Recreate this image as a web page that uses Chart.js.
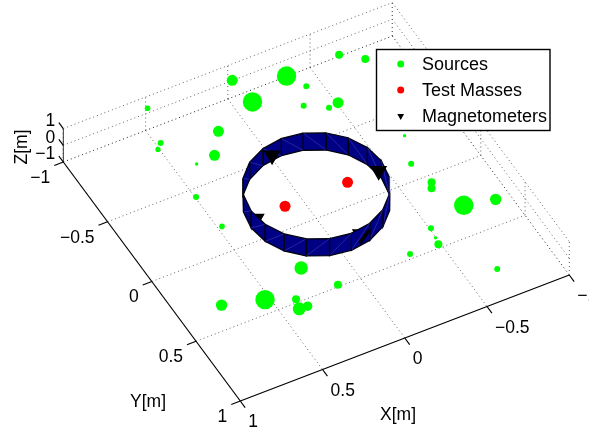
<!DOCTYPE html>
<html>
<head>
<meta charset="utf-8">
<title>Sources, test masses and magnetometers</title>
<script src="https://cdn.jsdelivr.net/npm/chart.js@4/dist/chart.umd.min.js"></script>
<style>
    html, body { margin: 0; padding: 0; background: #fff; }
    canvas { display: block; }
</style>
</head>
<body>
<canvas id="chart" width="589" height="432"></canvas>
<script>
// Values in metres (sources taken at Z = 0)
const srcX = [0.471, -0.028, -0.300, -0.048, 0.216, 0.531, 0.566, 0.319, 0.434, 0.553,
    -0.624, -0.733, -0.358, -0.277, -0.390, -0.451, -0.650, -0.583, -0.614, -0.593,
    -0.686, -0.858, 0.533, 0.811, 0.586, 0.438, 0.456, 0.304, 0.407, 0.188,
    -0.261, -0.429, -0.439, -0.450, -0.621];
const srcY = [-1.031, -1.002, -0.894, -0.810, -0.704, -0.772, -0.737, -0.557, -0.545, -0.331,
    -0.902, -0.809, -0.778, -0.658, -0.581, -0.592, -0.211, -0.012, 0.161, 0.200,
    0.391, 0.432, -0.075, 0.437, 0.510, 0.585, 0.655, 0.394, 0.659, 0.594,
    0.574, 0.582, 0.532, 0.459, 0.890];
// relative strength of each source, shown as the marker size
const srcStrength = [0.28, 0.55, 0.97, 0.97, 0.55, 0.30, 0.26, 0.55, 0.17, 0.30,
    0.40, 0.40, 0.30, 0.30, 0.30, 0.55, 0.17, 0.30, 0.40, 0.40,
    0.97, 0.57, 0.28, 0.57, 0.97, 0.40, 0.65, 0.67, 0.47, 0.40,
    0.30, 0.40, 0.17, 0.30, 0.30];

const massX = [0.19, -0.19];
const massY = [0, 0];
const massZ = [0.45, 0.45];

const magBackX = [0.37, -0.069];
const magBackY = [0.009, 0.369];
const magFrontX = [0.073, -0.377];
const magFrontY = [-0.364, 0.004];
const magZ = 0.45;
// the bit of the fourth magnetometer that pokes through the ring
const magTipX = [-0.035, -0.126];
const magTipY = [0.426, 0.365];

const ringAngles = [0, 18, 36, 54, 72, 90, 108, 126, 144, 162, 180, 198, 216, 234, 252, 270, 288, 306, 324, 342];
const ringRadius = 0.396;
const ringTop = 0.95;
const ringBottom = -0.07;

const xTicks = [1, 0.5, 0, -0.5, -1];
const yTicks = [-1, -0.5, 0, 0.5, 1];
const zTicks = [-1, 0, 1];
const xTickLabels = ['1', '0.5', '0', '\u22120.5', '\u22121'];
const yTickLabels = ['\u22121', '\u22120.5', '0', '0.5', '1'];
const zTickLabels = ['\u22121', '0', '1'];
const legendLabels = ['Sources', 'Test Masses', 'Magnetometers'];

// Orthographic view of the 3D box onto the chart plane
function project(x, y, z) {
    return {
        x: 316.3 - 164.5 * x + 88.5 * y,
        y: 201.8 + 63 * x + 119.5 * y - 16.7 * z
    };
}

const datasets = [];

function addLine(points, style) {
    datasets.push(Object.assign({
        data: points,
        showLine: true,
        pointRadius: 0,
        borderColor: '#000',
        borderWidth: 1,
        fill: false
    }, style));
}

const dotted = { borderColor: '#666', borderWidth: 1, borderDash: [1, 3] };
const dottedEdge = { borderColor: '#222', borderWidth: 1, borderDash: [1, 3] };
const solid = { borderColor: '#000', borderWidth: 1.2 };

// Grid on the floor and the two back walls
xTicks.forEach(x => {
    if (x !== 1) addLine([project(x, -1, -1), project(x, 1, -1)], x === -1 ? dottedEdge : dotted);
    addLine([project(x, -1, -1), project(x, -1, 1)], dotted);
});
yTicks.forEach(y => {
    if (y !== 1) addLine([project(1, y, -1), project(-1, y, -1)], y === -1 ? dottedEdge : dotted);
    addLine([project(-1, y, -1), project(-1, y, 1)], dotted);
});
zTicks.forEach(z => {
    if (z !== -1) {
        addLine([project(1, -1, z), project(-1, -1, z)], dotted);
        addLine([project(-1, -1, z), project(-1, 1, z)], dotted);
    }
});

// Axes and tick marks
addLine([project(1, -1, -1), project(1, 1, -1)], solid);
addLine([project(1, 1, -1), project(-1, 1, -1)], solid);
addLine([project(1, -1, -1), project(1, -1, 1)], { borderColor: '#333', borderWidth: 1 });
xTicks.forEach(x => addLine([project(x, 1, -1), project(x, 1.055, -1)], solid));
yTicks.forEach(y => addLine([project(1, y, -1), project(1.055, y, -1)], solid));
zTicks.forEach(z => addLine([project(1, -1, z), project(1, -1.05, z)], solid));

datasets.push({
    label: 'Sources',
    data: srcX.map((x, i) => project(x, srcY[i], 0)),
    pointRadius: srcStrength.map(s => s * 10),
    pointBackgroundColor: '#00ff00',
    pointBorderWidth: 0
});
datasets.push({
    label: 'Test Masses',
    data: massX.map((x, i) => project(x, massY[i], massZ[i])),
    pointRadius: 5.5,
    pointBackgroundColor: '#ff0000',
    pointBorderWidth: 0
});

const magStyle = {
    pointStyle: 'triangle',
    rotation: 180,
    pointRadius: 9.8,
    pointBackgroundColor: '#000',
    pointBorderWidth: 0
};
datasets.push(Object.assign({
    label: 'Magnetometers',
    data: magBackX.map((x, i) => project(x, magBackY[i], magZ))
}, magStyle));

// Ring faces, far side first so the near wall covers what is behind it
function ringPoint(angle, z) {
    const a = angle * Math.PI / 180;
    return project(ringRadius * Math.cos(a), ringRadius * Math.sin(a), z);
}
const faces = ringAngles.map((a, i) => [a, ringAngles[(i + 1) % ringAngles.length]]);
faces.sort((f, g) => ringPoint(f[0] + 9, 0).y - ringPoint(g[0] + 9, 0).y);
faces.forEach(f => {
    const quad = [ringPoint(f[0], ringTop), ringPoint(f[1], ringTop),
        ringPoint(f[1], ringBottom), ringPoint(f[0], ringBottom), ringPoint(f[0], ringTop)];
    addLine(quad, { borderColor: '#000010', borderWidth: 1.3, backgroundColor: '#000085', fill: 'shape' });
    addLine([ringPoint(f[1], ringTop), ringPoint(f[0], ringBottom)], { borderColor: '#3c3cb4', borderWidth: 0.6 });
});

datasets.push(Object.assign({
    label: 'Magnetometers',
    data: magFrontX.map((x, i) => project(x, magFrontY[i], magZ))
}, magStyle));
addLine(magTipX.map((x, i) => project(x, magTipY[i], magZ)), { borderColor: '#000', borderWidth: 3.5 });

// later datasets go on top
datasets.forEach((d, i) => { d.order = -i; });

const textPlugin = {
    id: 'textPlugin',
    afterDraw(chart) {
        const ctx = chart.ctx;
        const px = p => ({ x: chart.scales.x.getPixelForValue(p.x), y: chart.scales.y.getPixelForValue(p.y) });
        ctx.save();
        ctx.fillStyle = '#000';
        ctx.textBaseline = 'middle';
        ctx.font = '17.5px "Liberation Sans"';

        ctx.textAlign = 'left';
        xTicks.forEach((x, i) => {
            const p = px(project(x, 1, -1));
            ctx.fillText(xTickLabels[i], p.x + 8, p.y + 21.5);
        });
        ctx.textAlign = 'right';
        yTicks.forEach((y, i) => {
            const p = px(project(1, y, -1));
            ctx.fillText(yTickLabels[i], p.x - 13, p.y + 16);
        });
        zTicks.forEach((z, i) => {
            const p = px(project(1, -1, z));
            ctx.fillText(zTickLabels[i], p.x - 8, p.y - 7.5);
        });

        ctx.textAlign = 'center';
        ctx.fillText('X[m]', 398, 415);
        ctx.fillText('Y[m]', 148, 402);
        ctx.save();
        ctx.translate(22, 147);
        ctx.rotate(-Math.PI / 2);
        ctx.fillText('Z[m]', 0, 0);
        ctx.restore();

        // Legend box
        ctx.fillStyle = '#fff';
        ctx.fillRect(376.5, 49.5, 173.5, 81);
        ctx.strokeStyle = '#000';
        ctx.lineWidth = 1.4;
        ctx.strokeRect(376.5, 49.5, 173.5, 81);
        ctx.font = '18px "Liberation Sans"';
        ctx.textAlign = 'left';
        const markers = [
            { pointStyle: 'circle', radius: 3.5, color: '#00ff00', rotation: 0 },
            { pointStyle: 'circle', radius: 3.5, color: '#ff0000', rotation: 0 },
            { pointStyle: 'triangle', radius: 3.9, color: '#000', rotation: 180 }
        ];
        legendLabels.forEach((label, i) => {
            const y = 64 + i * 26;
            ctx.fillStyle = markers[i].color;
            Chart.helpers.drawPoint(ctx, {
                pointStyle: markers[i].pointStyle,
                radius: markers[i].radius,
                rotation: markers[i].rotation,
                borderWidth: 0
            }, 400.7, y);
            ctx.fillStyle = '#000';
            ctx.fillText(label, 422, y + 1.5);
        });
        ctx.restore();
    }
};

new Chart(document.getElementById('chart').getContext('2d'), {
    type: 'scatter',
    data: { datasets: datasets },
    options: {
        responsive: false,
        animation: false,
        layout: { padding: 0, autoPadding: false },
        plugins: {
            legend: { display: false },
            tooltip: { enabled: false },
            title: { display: false }
        },
        scales: {
            x: { type: 'linear', min: 0, max: 589, display: false },
            y: { type: 'linear', min: 0, max: 432, reverse: true, display: false }
        }
    },
    plugins: [textPlugin]
});
</script>
</body>
</html>
